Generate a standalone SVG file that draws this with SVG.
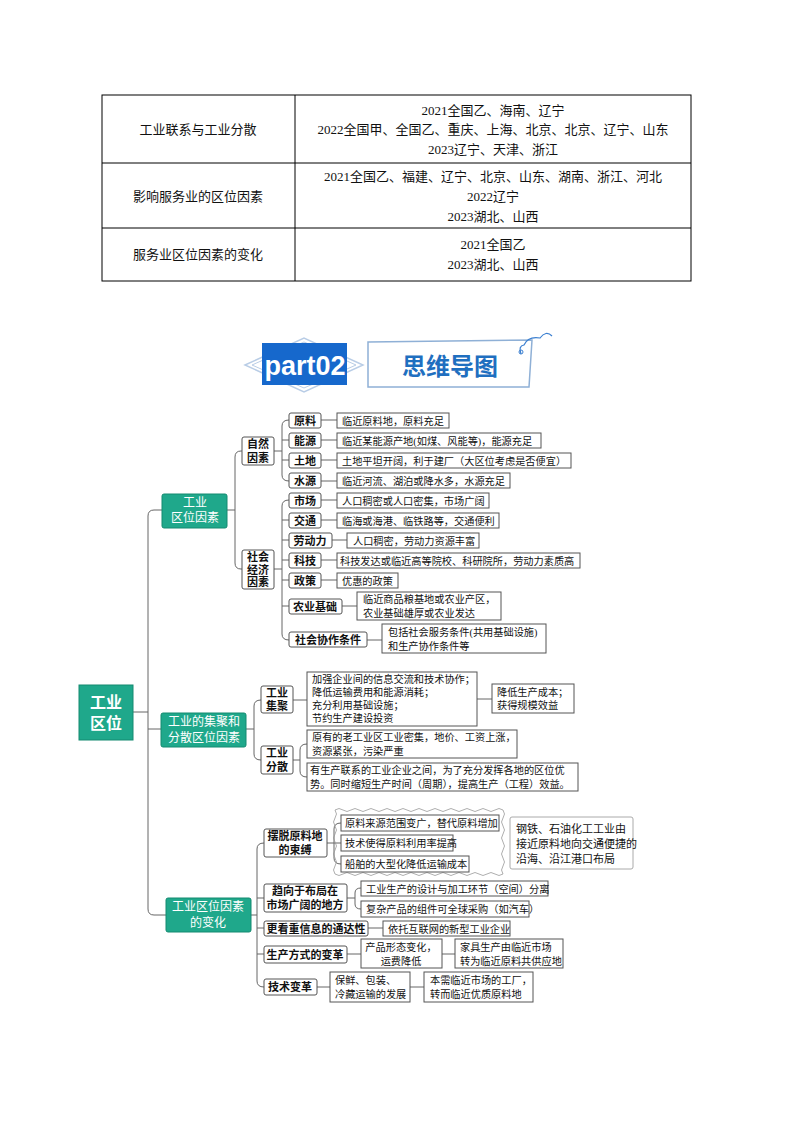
<svg xmlns="http://www.w3.org/2000/svg" width="794" height="1123" viewBox="0 0 794 1123">
<style>
text{font-family:"Liberation Serif","Noto Sans CJK SC",serif;fill:#111;dominant-baseline:central}
.t{font-size:13px;text-anchor:middle}
.b{font-family:"Liberation Sans","Noto Sans CJK SC",sans-serif;font-weight:bold;font-size:11px;text-anchor:middle}
.l{font-size:10.2px}
.box{fill:#fff;stroke:#555;stroke-width:1}
.tl{fill:#1fa88b;stroke:#148a70;stroke-width:1}
.w{fill:#fff;font-family:"Liberation Sans","Noto Sans CJK SC",sans-serif;font-size:12px;text-anchor:middle}
.c{fill:none;stroke:#666;stroke-width:1}
.g{stroke:#000;stroke-width:1}
</style>
<rect width="794" height="1123" fill="#fff"/>
<g id="table">
<rect x="102" y="95" width="589" height="186" fill="none" class="g"/>
<line x1="295" y1="95" x2="295" y2="281" class="g"/>
<line x1="102" y1="163" x2="691" y2="163" class="g"/>
<line x1="102" y1="228" x2="691" y2="228" class="g"/>
<text class="t" x="198" y="129">工业联系与工业分散</text>
<text class="t" x="493" y="110">2021全国乙、海南、辽宁</text>
<text class="t" x="493" y="129">2022全国甲、全国乙、重庆、上海、北京、北京、辽宁、山东</text>
<text class="t" x="493" y="149">2023辽宁、天津、浙江</text>
<text class="t" x="198" y="196">影响服务业的区位因素</text>
<text class="t" x="493" y="176">2021全国乙、福建、辽宁、北京、山东、湖南、浙江、河北</text>
<text class="t" x="493" y="196">2022辽宁</text>
<text class="t" x="493" y="216">2023湖北、山西</text>
<text class="t" x="198" y="254">服务业区位因素的变化</text>
<text class="t" x="493" y="244">2021全国乙</text>
<text class="t" x="493" y="264">2023湖北、山西</text>
</g>
<g id="header">
<path d="M245 365 L304 338 L363 365 L304 392 Z" fill="none" stroke="#b9cde6" stroke-width="1.5"/>
<path d="M252 365 L304 342 L356 365 L304 388 Z" fill="none" stroke="#b9cde6" stroke-width="1"/>
<rect x="262" y="343" width="85" height="42" fill="#1668cc"/>
<text x="305" y="366" style="font-family:'Liberation Sans',sans-serif;font-weight:bold;font-size:27px;fill:#fff;text-anchor:middle">part02</text>
<path d="M368 342 L532 340 L529 387 L368 387 Z" fill="#fff" stroke="#8fb0d6" stroke-width="1.5"/>
<text x="450" y="364" style="font-family:'Noto Sans CJK SC',sans-serif;font-weight:bold;font-size:24px;fill:#1f6fc0;text-anchor:middle">思维导图</text>
<path d="M521 354 Q518 346 524 345 Q528 336 540 338 Q546 330 552 336" fill="none" stroke="#3b7fd0" stroke-width="1.2"/>
<circle cx="521" cy="352" r="2" fill="none" stroke="#3b7fd0"/>
</g>
<g id="connectors">
<path class="c" d="M127 712 H148 M148 516 Q148 510 154 510 H162 M148 516 V909 Q148 915 154 915 H166 M148 729 H161"/>
<path class="c" d="M227 510 H235 M242 451 H241 Q235 451 235 457 V563 Q235 569 241 569 H242"/>
<path class="c" d="M274 451 H282 M289 420 Q282 420 282 426 V475 Q282 481 289 481 M282 440 H289 M282 460 H289"/>
<path class="c" d="M321 420 H337 M321 440 H337 M321 460 H337 M321 481 H337"/>
<path class="c" d="M274 569 H282 M289 500 Q282 500 282 506 V634 Q282 640 289 640 M282 520 H289 M282 540 H289 M282 560 H289 M282 580 H289 M282 606 H289"/>
<path class="c" d="M321 500 H337 M321 520 H337 M332 540 H347 M321 560 H337 M321 580 H337 M342 606 H357 M367 640 H382"/>
<path class="c" d="M246 729 H254 M261 700 Q254 700 254 706 V754 Q254 760 261 760 M293 700 H307 M477 699 H492"/>
<path class="c" d="M293 760 H300 M307 744 Q300 744 300 750 V771 Q300 777 307 777"/>
<path class="c" d="M251 915 H257 M264 843 Q257 843 257 849 V981 Q257 987 264 987 M257 898 H264 M257 928 H264 M257 954 H264"/>
<path class="c" d="M327 843 H334 M341 823 Q334 823 334 829 V858 Q334 864 341 864 M334 843 H341"/>
<path class="c" d="M347 898 H355 M361 888 Q355 888 355 893 V904 Q355 909 361 909 M368 928 H383 M347 954 H361 M442 954 H455 M317 987 H330 M410 987 H424"/>
</g>
<g id="root"><rect class="tl" x="79" y="685" width="54" height="55"/><text class="w" x="106" y="702" style="font-size:16px;font-weight:bold">工业</text><text class="w" x="106" y="723" style="font-size:16px;font-weight:bold">区位</text></g>
<g id="b1"><rect class="tl" x="162" y="494" width="65" height="34" rx="2"/><text class="w" x="195" y="503">工业</text><text class="w" x="195" y="518">区位因素</text></g>
<g id="b2"><rect class="tl" x="161" y="713" width="85" height="34" rx="2"/><text class="w" x="204" y="722">工业的集聚和</text><text class="w" x="204" y="738">分散区位因素</text></g>
<g id="b3"><rect class="tl" x="166" y="898" width="85" height="34" rx="2"/><text class="w" x="208" y="907">工业区位因素</text><text class="w" x="208" y="923">的变化</text></g>
<g id="n-zr"><rect class="box" x="242" y="437" width="32" height="28" rx="2"/><text class="b" x="258" y="444">自然</text><text class="b" x="258" y="458">因素</text></g>
<g id="n-sh"><rect class="box" x="242" y="550" width="32" height="39" rx="2"/><text class="b" x="258" y="557">社会</text><text class="b" x="258" y="570">经济</text><text class="b" x="258" y="582">因素</text></g>
<g id="zr-items">
<rect class="box" x="289" y="413" width="32" height="15" rx="2"/><text class="b" x="305" y="421">原料</text>
<rect class="box" x="289" y="433" width="32" height="15" rx="2"/><text class="b" x="305" y="441">能源</text>
<rect class="box" x="289" y="453" width="32" height="15" rx="2"/><text class="b" x="305" y="461">土地</text>
<rect class="box" x="289" y="473" width="32" height="15" rx="2"/><text class="b" x="305" y="481">水源</text>
<rect class="box" x="337" y="413" width="112" height="15"/><text class="l" x="342" y="421">临近原料地，原料充足</text>
<rect class="box" x="337" y="433" width="204" height="15"/><text class="l" x="342" y="441">临近某能源产地(如煤、风能等)，能源充足</text>
<rect class="box" x="337" y="453" width="234" height="15"/><text class="l" x="342" y="461">土地平坦开阔，利于建厂（大区位考虑是否便宜）</text>
<rect class="box" x="337" y="473" width="173" height="15"/><text class="l" x="342" y="481">临近河流、湖泊或降水多，水源充足</text>
</g>
<g id="sh-items">
<rect class="box" x="289" y="493" width="32" height="15" rx="2"/><text class="b" x="305" y="501">市场</text>
<rect class="box" x="289" y="513" width="32" height="15" rx="2"/><text class="b" x="305" y="521">交通</text>
<rect class="box" x="289" y="533" width="43" height="15" rx="2"/><text class="b" x="310" y="541">劳动力</text>
<rect class="box" x="289" y="553" width="32" height="15" rx="2"/><text class="b" x="305" y="561">科技</text>
<rect class="box" x="289" y="573" width="32" height="15" rx="2"/><text class="b" x="305" y="581">政策</text>
<rect class="box" x="289" y="599" width="53" height="15" rx="2"/><text class="b" x="315" y="607">农业基础</text>
<rect class="box" x="289" y="632" width="78" height="15" rx="2"/><text class="b" x="328" y="640">社会协作条件</text>
<rect class="box" x="337" y="493" width="152" height="15"/><text class="l" x="342" y="501">人口稠密或人口密集，市场广阔</text>
<rect class="box" x="337" y="513" width="162" height="15"/><text class="l" x="342" y="521">临海或海港、临铁路等，交通便利</text>
<rect class="box" x="347" y="533" width="132" height="15"/><text class="l" x="353" y="541">人口稠密，劳动力资源丰富</text>
<rect class="box" x="337" y="553" width="243" height="15"/><text class="l" x="340" y="561">科技发达或临近高等院校、科研院所，劳动力素质高</text>
<rect class="box" x="337" y="573" width="61" height="15"/><text class="l" x="342" y="581">优惠的政策</text>
<rect class="box" x="357" y="592" width="144" height="28"/><text class="l" x="363" y="599">临近商品粮基地或农业产区，</text><text class="l" x="363" y="613">农业基础雄厚或农业发达</text>
<rect class="box" x="382" y="624" width="164" height="29"/><text class="l" x="388" y="632">包括社会服务条件(共用基础设施)</text><text class="l" x="388" y="646">和生产协作条件等</text>
</g>
<g id="jj">
<rect class="box" x="261" y="686" width="32" height="27" rx="2"/><text class="b" x="277" y="693">工业</text><text class="b" x="277" y="706">集聚</text>
<rect class="box" x="307" y="672" width="170" height="54"/>
<text class="l" x="312" y="679">加强企业间的信息交流和技术协作；</text>
<text class="l" x="312" y="692">降低运输费用和能源消耗；</text>
<text class="l" x="312" y="705">充分利用基础设施；</text>
<text class="l" x="312" y="718">节约生产建设投资</text>
<rect class="box" x="492" y="684" width="82" height="29"/><text class="l" x="497" y="692">降低生产成本；</text><text class="l" x="497" y="705">获得规模效益</text>
</g>
<g id="fs">
<rect class="box" x="261" y="746" width="32" height="28" rx="2"/><text class="b" x="277" y="753">工业</text><text class="b" x="277" y="767">分散</text>
<rect class="box" x="307" y="730" width="210" height="28"/><text class="l" x="312" y="737">原有的老工业区工业密集，地价、工资上涨，</text><text class="l" x="312" y="751">资源紧张，污染严重</text>
<rect class="box" x="307" y="763" width="271" height="28"/><text class="l" x="310" y="770">有生产联系的工业企业之间，为了充分发挥各地的区位优</text><text class="l" x="310" y="784">势。同时缩短生产时间（周期），提高生产（工程）效益。</text>
</g>
<g id="bt">
<rect class="box" x="264" y="829" width="63" height="28" rx="2"/><text class="b" x="295" y="836">摆脱原料地</text><text class="b" x="295" y="850">的束缚</text>
<path d="M335 810 q4 -3 8 0 t8 0 t8 0 t8 0 t8 0 t8 0 t8 0 t8 0 t8 0 t8 0 t8 0 t8 0 t8 0 t8 0 t8 0 t8 0 t8 0 t8 0 t8 0 t8 0 t8 0 q3 4 0 8 t0 8 t0 8 t0 8 t0 8 t0 8 t0 8 t0 8 q-4 3 -8 0 t-8 0 t-8 0 t-8 0 t-8 0 t-8 0 t-8 0 t-8 0 t-8 0 t-8 0 t-8 0 t-8 0 t-8 0 t-8 0 t-8 0 t-8 0 t-8 0 t-8 0 t-8 0 t-8 0 t-8 0 q-3 -4 0 -8 t0 -8 t0 -8 t0 -8 t0 -8 t0 -8 t0 -8 t0 -8 Z" fill="none" stroke="#999" stroke-width="0.8"/>
<rect class="box" x="341" y="815" width="158" height="16"/><text class="l" x="345" y="823">原料来源范围变广，替代原料增加</text>
<rect class="box" x="341" y="835" width="112" height="16"/><text class="l" x="345" y="843">技术使得原料利用率提高</text>
<rect class="box" x="341" y="856" width="128" height="16"/><text class="l" x="345" y="864">船舶的大型化降低运输成本</text>
<rect x="510" y="817" width="123" height="52" rx="2" fill="#fff" stroke="#aaa"/>
<text x="516" y="828" style="font-family:'Noto Sans CJK SC',sans-serif;font-size:11px">钢铁、石油化工工业由</text>
<text x="516" y="843" style="font-family:'Noto Sans CJK SC',sans-serif;font-size:11px">接近原料地向交通便捷的</text>
<text x="516" y="858" style="font-family:'Noto Sans CJK SC',sans-serif;font-size:11px">沿海、沿江港口布局</text>
</g>
<g id="qx">
<rect class="box" x="264" y="884" width="83" height="28" rx="2"/><text class="b" x="305" y="891">趋向于布局在</text><text class="b" x="305" y="905">市场广阔的地方</text>
<rect class="box" x="361" y="881" width="187" height="15"/><text class="l" x="366" y="889">工业生产的设计与加工环节（空间）分离</text>
<rect class="box" x="361" y="901" width="168" height="16"/><text class="l" x="366" y="909">复杂产品的组件可全球采购（如汽车）</text>
</g>
<g id="gk">
<rect class="box" x="264" y="921" width="104" height="15" rx="2"/><text class="b" x="316" y="929">更看重信息的通达性</text>
<rect class="box" x="383" y="921" width="127" height="15"/><text class="l" x="388" y="929">依托互联网的新型工业企业</text>
</g>
<g id="sc">
<rect class="box" x="264" y="946" width="83" height="17" rx="2"/><text class="b" x="305" y="955">生产方式的变革</text>
<rect class="box" x="361" y="939" width="81" height="29"/><text class="l" x="401" y="947" text-anchor="middle">产品形态变化，</text><text class="l" x="401" y="961" text-anchor="middle">运费降低</text>
<rect class="box" x="455" y="939" width="108" height="29"/><text class="l" x="460" y="947">家具生产由临近市场</text><text class="l" x="460" y="961">转为临近原料共供应地</text>
</g>
<g id="js">
<rect class="box" x="264" y="979" width="53" height="16" rx="2"/><text class="b" x="290" y="987">技术变革</text>
<rect class="box" x="330" y="972" width="80" height="30"/><text class="l" x="335" y="980">保鲜、包装、</text><text class="l" x="335" y="994">冷藏运输的发展</text>
<rect class="box" x="424" y="972" width="109" height="30"/><text class="l" x="430" y="980">本需临近市场的工厂，</text><text class="l" x="430" y="994">转而临近优质原料地</text>
</g>
</svg>
